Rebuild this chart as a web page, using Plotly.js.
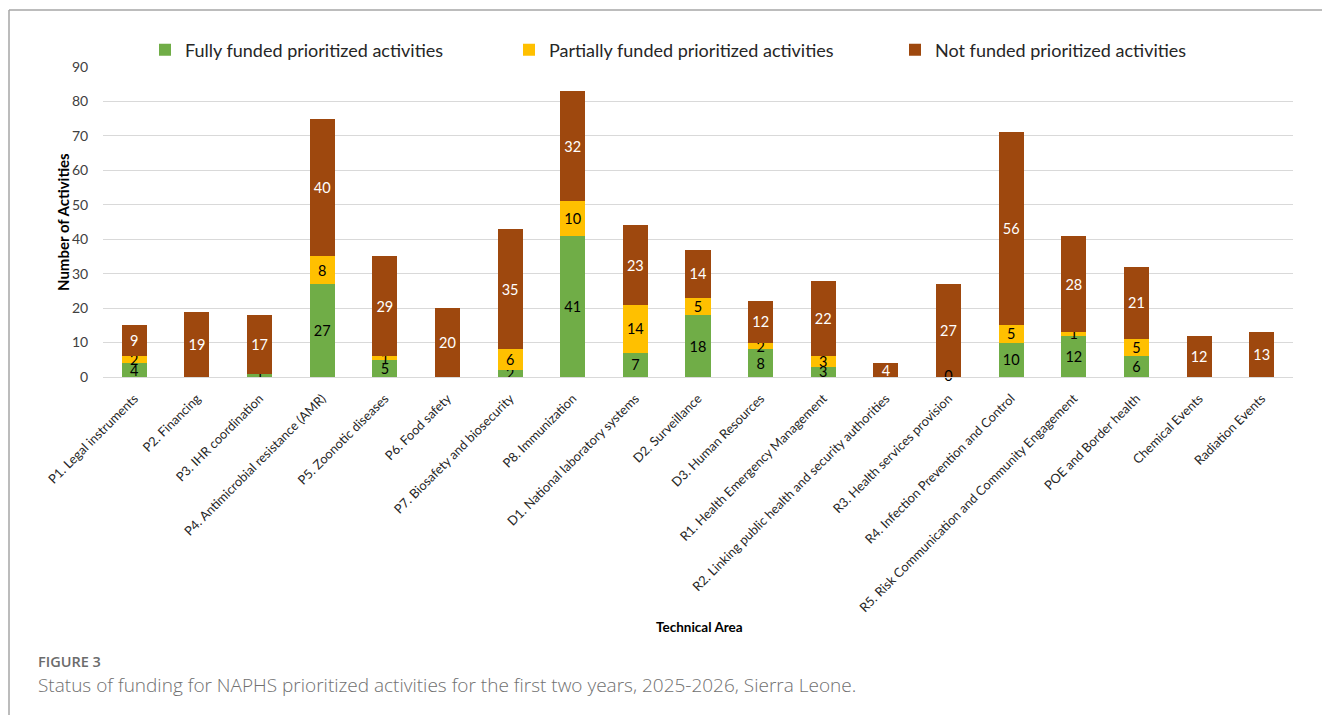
<!DOCTYPE html>
<html>
<head>
<meta charset="utf-8">
<script src="https://cdn.plot.ly/plotly-3.0.1.min.js"></script>
<style>
html,body{margin:0;padding:0;background:#fff;}
#chart{width:1322px;height:715px;}
</style>
</head>
<body>
<div id="chart"></div>
<script>
const categories = [
  "P1. Legal instruments","P2. Financing","P3. IHR coordination",
  "P4. Antimicrobial resistance (AMR)","P5. Zoonotic diseases","P6. Food safety",
  "P7. Biosafety and biosecurity","P8. Immunization","D1. National laboratory systems",
  "D2. Surveillance","D3. Human Resources","R1. Health Emergency Management",
  "R2. Linking public health and security authorities","R3. Health services provision",
  "R4. Infection Prevention and Control","R5. Risk Communication and Community Engagement",
  "POE and Border health","Chemical Events","Radiation Events"
];
const fullyFunded    = [4, null, 1, 27, 5, null, 2, 41, 7, 18, 8, 3, null, 0, 10, 12, 6, null, null];
const partiallyFunded= [2, null, null, 8, 1, null, 6, 10, 14, 5, 2, 3, null, null, 5, 1, 5, null, null];
const notFunded      = [9, 19, 17, 40, 29, 20, 35, 32, 23, 14, 12, 22, 4, 27, 56, 28, 21, 12, 13];

const seriesNames = ["Fully funded prioritized activities","Partially funded prioritized activities","Not funded prioritized activities"];
const seriesColors = ["#70AD47", "#FFC000", "#9E480E"];
const labelColors = ["#000000", "#000000", "#FFFFFF"];
const legendWidths = [319, 341, 270];

const FONT = "Lato, 'Open Sans', 'Liberation Sans', sans-serif";
const values = [fullyFunded, partiallyFunded, notFunded];

const traces = values.map((v, i) => ({
  type: "bar",
  name: seriesNames[i],
  x: categories,
  y: v,
  marker: {color: seriesColors[i], line: {width: 0}},
  text: v.map(d => d === null ? "" : String(d)),
  textposition: "inside",
  insidetextanchor: "middle",
  constraintext: "none",
  textangle: 0,
  textfont: {family: FONT, size: 14.5, color: labelColors[i]},
  legendwidth: legendWidths[i],
  hoverinfo: "skip"
}));

// zero-height segments still carry a visible "0" label (as in the reference)
values.forEach((v, i) => {
  const idx = v.map((d, k) => d === 0 ? k : -1).filter(k => k >= 0);
  if (idx.length) {
    traces.push({
      type: "scatter", mode: "text",
      x: idx.map(k => categories[k]),
      y: idx.map(k => v[k]),
      text: idx.map(k => String(v[k])),
      textposition: "middle center",
      textfont: {family: FONT, size: 14.5, color: labelColors[i]},
      showlegend: false, hoverinfo: "skip", cliponaxis: false
    });
  }
});

// pixel helpers -> paper coords
const L = 103, R = 1293, T = 67, B = 377;
const px = x => (x - L) / (R - L);
const py = y => (B - y) / (B - T);

const layout = {
  width: 1322, height: 715,
  margin: {l: L, r: 1322 - R, t: T, b: 715 - B, pad: 0},
  paper_bgcolor: "#ffffff",
  plot_bgcolor: "#ffffff",
  barmode: "stack",
  bargap: 0.6,
  font: {family: FONT, color: "#404040"},
  showlegend: true,
  legend: {
    orientation: "h",
    traceorder: "normal",
    x: px(145), xanchor: "left",
    y: py(50), yanchor: "middle",
    font: {family: FONT, size: 18, color: "#262626"},
    bgcolor: "rgba(0,0,0,0)"
  },
  xaxis: {
    type: "category",
    tickangle: -45,
    tickfont: {family: FONT, size: 12.8, color: "#262626"},
    ticks: "outside", ticklen: 8, tickcolor: "rgba(0,0,0,0)",
    showgrid: false, zeroline: false,
    showline: true, linecolor: "#D9D9D9", linewidth: 1
  },
  yaxis: {
    range: [0, 90],
    dtick: 10,
    tickfont: {family: FONT, size: 14, color: "#404040"},
    ticks: "outside", ticklen: 11, tickcolor: "rgba(0,0,0,0)",
    showgrid: true, gridcolor: "#D9D9D9", gridwidth: 1,
    zeroline: false, showline: false
  },
  annotations: [
    {text: "<b>Number of Activities</b>", xref: "paper", yref: "paper",
     x: px(63), y: py(222), textangle: -90, showarrow: false,
     xanchor: "center", yanchor: "middle",
     font: {family: FONT, size: 15, color: "#000000"}},
    {text: "<b>Technical Area</b>", xref: "paper", yref: "paper",
     x: px(699), y: py(627), showarrow: false,
     xanchor: "center", yanchor: "middle",
     font: {family: FONT, size: 13.5, color: "#000000"}},
    {text: "FIGURE 3", xref: "paper", yref: "paper",
     x: px(36), y: py(661), showarrow: false,
     xanchor: "left", yanchor: "middle",
     font: {family: "'Open Sans', sans-serif", size: 14.5, color: "#6b6b6b", weight: 600}},
    {text: "Status of funding for NAPHS prioritized activities for the first two years, 2025-2026, Sierra Leone.",
     xref: "paper", yref: "paper",
     x: px(36), y: py(685), showarrow: false,
     xanchor: "left", yanchor: "middle",
     font: {family: "'Open Sans', sans-serif", size: 19, color: "#707070", weight: 300}}
  ],
  shapes: [
    {type: "line", xref: "paper", yref: "paper", x0: px(9), x1: px(1322), y0: py(10), y1: py(10),
     line: {color: "#A6A6A6", width: 1.5}},
    {type: "line", xref: "paper", yref: "paper", x0: px(9), x1: px(9), y0: py(10), y1: py(715),
     line: {color: "#A6A6A6", width: 1.5}}
  ]
};

Plotly.newPlot("chart", traces, layout, {displayModeBar: false, staticPlot: true});
</script>
</body>
</html>
